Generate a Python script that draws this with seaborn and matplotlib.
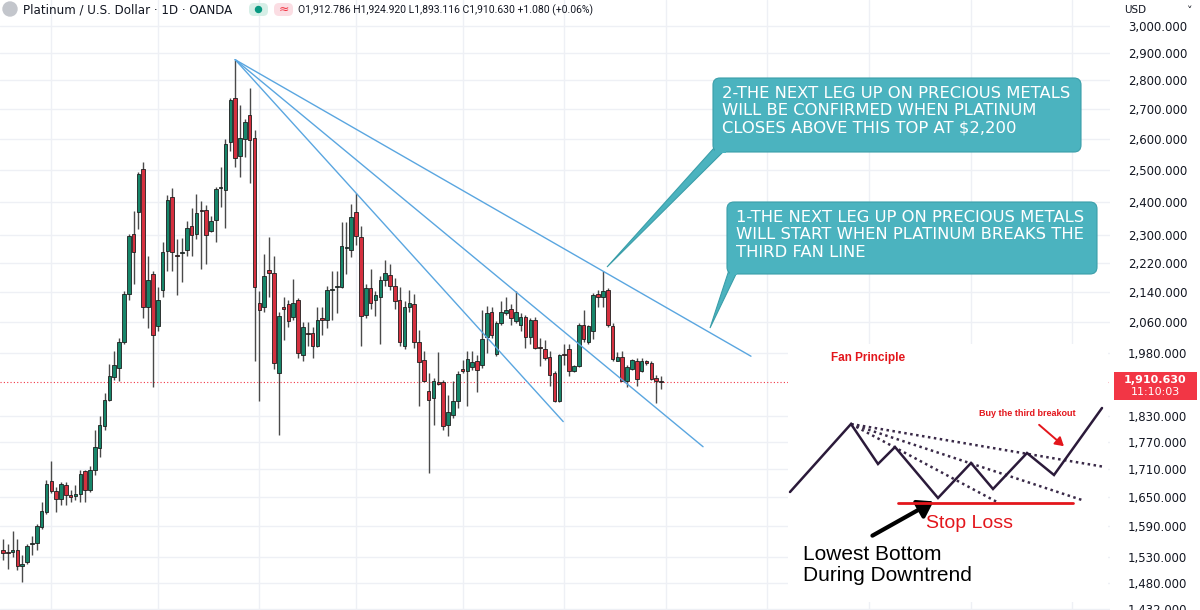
import numpy as np
import pandas as pd
import matplotlib
matplotlib.use("Agg")
import matplotlib.pyplot as plt
import seaborn as sns
from matplotlib.patches import FancyBboxPatch, Polygon, Rectangle, Circle, FancyArrowPatch

# daily candles (USD)
opens = [1543, 1539, 1539, 1543, 1512, 1519, 1555, 1557, 1588, 1619,
         1684, 1663, 1646, 1675, 1654, 1652, 1656, 1705, 1665, 1707,
         1757, 1807, 1866, 1921, 1943, 2010, 2136, 2305, 2369, 2501,
         2101, 2191, 2049, 2145, 2255, 2415, 2244, 2250, 2258, 2328,
         2305, 2375, 2375, 2313, 2346, 2442, 2436, 2589, 2739, 2543,
         2598, 2678, 2601, 2112, 2101, 2202, 2194, 1931, 2101, 2107,
         2073, 2118, 1975, 2031, 2031, 2000, 2070, 2067, 2147, 2153,
         2153, 2264, 2258, 2369, 2296, 2080, 2150, 2120, 2126, 2172,
         2188, 2158, 2118, 1998, 2101, 2109, 2010, 1963, 1888, 1871,
         1910, 1910, 1809, 1832, 1864, 1941, 1936, 1946, 1961, 1951,
         2021, 2088, 1978, 2057, 2083, 2096, 2062, 2052, 2073, 2021,
         2065, 1995, 1990, 1970, 1931, 1864, 1978, 1990, 1936, 1948,
         2054, 2008, 2036, 2134, 2128, 2145, 2049, 1961, 1970, 1912,
         1941, 1961, 1936, 1961, 1955, 1919, 1912.786]
highs = [1565, 1555, 1580, 1565, 1533, 1555, 1571, 1594, 1640, 1686,
         1728, 1671, 1682, 1682, 1665, 1675, 1707, 1707, 1717, 1797,
         1830, 1883, 1953, 1985, 2018, 2142, 2305, 2372, 2492, 2523,
         2241, 2197, 2155, 2281, 2421, 2442, 2290, 2293, 2343, 2381,
         2424, 2403, 2390, 2357, 2445, 2507, 2598, 2739, 2874, 2712,
         2667, 2774, 2628, 2142, 2247, 2296, 2241, 2088, 2128, 2118,
         2177, 2123, 2060, 2060, 2047, 2101, 2101, 2158, 2197, 2199,
         2340, 2340, 2393, 2427, 2328, 2161, 2205, 2142, 2183, 2230,
         2219, 2180, 2153, 2115, 2145, 2136, 2039, 1985, 1931, 1919,
         1983, 1914, 1878, 1912, 1936, 1963, 1985, 1985, 1975, 2091,
         2104, 2101, 2062, 2115, 2128, 2109, 2142, 2083, 2078, 2070,
         2073, 2018, 2013, 1985, 1936, 1978, 2003, 2005, 1951, 2057,
         2091, 2052, 2139, 2145, 2197, 2150, 2057, 1983, 1985, 1951,
         1965, 1968, 1968, 1963, 1961, 1926, 1924.920]
lows = [1523, 1506, 1529, 1504, 1482, 1516, 1533, 1543, 1584, 1615,
        1658, 1619, 1633, 1633, 1640, 1644, 1640, 1640, 1661, 1698,
        1737, 1797, 1864, 1914, 1912, 2005, 2118, 2161, 2319, 2070,
        2044, 1897, 2036, 2128, 2197, 2199, 2131, 2169, 2241, 2241,
        2290, 2205, 2219, 2310, 2281, 2384, 2322, 2559, 2507, 2476,
        2540, 2457, 1961, 1864, 2086, 2128, 1941, 1786, 2013, 2047,
        2065, 1968, 1961, 1998, 1968, 1995, 2026, 2044, 2065, 2083,
        2150, 2191, 2239, 2273, 1998, 2070, 2096, 2075, 2003, 2158,
        2145, 2096, 2000, 1990, 2086, 1993, 1853, 1910, 1702, 1809,
        1902, 1797, 1784, 1825, 1848, 1931, 1853, 1938, 1885, 1943,
        1980, 2018, 1973, 2052, 2078, 2054, 2057, 2036, 1993, 2005,
        1990, 1948, 1963, 1900, 1862, 1862, 1951, 1924, 1934, 1946,
        2010, 2005, 2016, 2101, 2099, 2047, 1961, 1960, 1911, 1897,
        1938, 1900, 1935, 1951, 1914, 1860, 1893.116]
closes = [1537, 1538, 1543, 1512, 1516, 1551, 1557, 1590, 1621, 1677,
          1663, 1646, 1677, 1654, 1650, 1656, 1700, 1665, 1707, 1759,
          1809, 1866, 1924, 1950, 2008, 2136, 2299, 2253, 2486, 2101,
          2172, 2026, 2118, 2253, 2406, 2253, 2241, 2253, 2322, 2302,
          2366, 2372, 2302, 2343, 2439, 2444, 2582, 2729, 2536, 2601,
          2657, 2595, 2153, 2091, 2183, 2194, 1955, 2075, 2096, 2062,
          2112, 1980, 2047, 2030, 2000, 2067, 2065, 2147, 2148, 2158,
          2270, 2265, 2355, 2299, 2075, 2150, 2112, 2131, 2172, 2194,
          2158, 2115, 2010, 2101, 2112, 2008, 1958, 1912, 1866, 1912,
          1905, 1807, 1839, 1864, 1929, 1936, 1965, 1958, 1938, 2016,
          2083, 2026, 2057, 2088, 2093, 2070, 2088, 2073, 2021, 2065,
          1993, 1994, 1968, 1926, 1864, 1975, 1977, 1936, 1948, 2054,
          2016, 2049, 2131, 2126, 2142, 2052, 1965, 1970, 1912, 1946,
          1963, 1917, 1961, 1955, 1917, 1912, 1910.630]

last_price = 1910.630
price_ticks = [3000, 2900, 2800, 2700, 2600, 2500, 2400, 2300, 2220, 2140,
               2060, 1980, 1830, 1770, 1710, 1650, 1590, 1530, 1480, 1432]
month_starts = [10, 32, 53, 73, 95, 116, 137, 158, 179, 200, 221]

# fan lines: all start at the top (bar 48 high), end points (bar index, price)
fan_start = (48, 2874)
fan_ends = [(115.8, 1816), (144.7, 1759), (154.6, 1973)]

# "Fan Principle" sketch, in its own little frame
zig_x = [10, 71, 98, 115, 158, 191, 213, 247, 274, 322]
zig_y = [152, 84, 124, 107, 158, 123, 149, 113, 135, 68]
sketch_fan_ends = [(217, 162), (302, 160), (325, 127)]

callout_top = "2-THE NEXT LEG UP ON PRECIOUS METALS\nWILL BE CONFIRMED WHEN PLATINUM\nCLOSES ABOVE THIS TOP AT $2,200"
callout_low = "1-THE NEXT LEG UP ON PRECIOUS METALS\nWILL START WHEN PLATINUM BREAKS THE\nTHIRD FAN LINE"

sns.set_style("white")
plt.rcParams["font.family"] = ["DejaVu Sans"]

UP, DOWN = "#17866a", "#d5303f"
TEAL, TEAL_EDGE = "#4bb3bf", "#3a9ea9"

fig = plt.figure(figsize=(12, 6.1), dpi=100)
ax = fig.add_axes([0, 0, 1110 / 1200, 1])

idx = np.arange(len(opens))
o, h, l, c = map(np.array, (opens, highs, lows, closes))
colors = np.where(c >= o, UP, DOWN)

ax.vlines(idx, l, h, color="#4a4a4a", lw=1, zorder=2)
ax.bar(idx, c - o, bottom=o, width=0.74, color=colors,
       edgecolor="#1e1e1e", linewidth=0.6, zorder=3)

fan = pd.DataFrame(
    [(k, x, y) for k, end in enumerate(fan_ends) for x, y in (fan_start, end)],
    columns=["line", "bar", "price"])
sns.lineplot(data=fan, x="bar", y="price", units="line", estimator=None,
             sort=False, color="#5aa6e0", lw=1, ax=ax, zorder=4)

ax.axhline(last_price, color="#f23645", lw=0.8, ls=(0, (1, 2)), zorder=1)

ax.set_yscale("log")
ax.set_ylim(1430, 3100)
ax.set_xlim(-0.6, 228.8)
ax.yaxis.tick_right()
ax.set_yticks(price_ticks)
ax.set_yticks([], minor=True)
ax.set_yticklabels([f"{v:,.3f}" for v in price_ticks], fontsize=8.5, color="#131722")
ax.set_xticks(month_starts)
ax.set_xticklabels([])
ax.tick_params(axis="both", length=0, pad=13)
ax.grid(True, color="#eef0f5", lw=1)
ax.set_xlabel("")
ax.set_ylabel("")
for s in ax.spines.values():
    s.set_visible(False)

# overlay in pixel units for header, call-outs and the axis badge
ov = fig.add_axes([0, 0, 1, 1], zorder=5)
ov.set_xlim(0, 1200)
ov.set_ylim(610, 0)
ov.axis("off")
ov.patch.set_alpha(0)

ov.add_patch(Circle((10, 9), 7, color="#c3c6cc"))
ov.text(23, 10, "Platinum / U.S. Dollar \u00b7 1D \u00b7 OANDA", fontsize=8.6,
        color="#131722", va="center")
ov.add_patch(FancyBboxPatch((249, 3), 19, 13, boxstyle="round,pad=0,rounding_size=5",
                            fc="#d6efe7", ec="none"))
ov.add_patch(Circle((258.5, 9.5), 3, color="#089981"))
ov.add_patch(FancyBboxPatch((274, 3), 19, 13, boxstyle="round,pad=0,rounding_size=5",
                            fc="#fbdde3", ec="none"))
ov.text(283.5, 9.5, "\u2248", fontsize=9, color="#f23645", ha="center", va="center")
ov.text(298, 10, "O1,912.786 H1,924.920 L1,893.116 C1,910.630 +1.080 (+0.06%)",
        fontsize=7.5, color="#131722", va="center", family="Roboto")
ov.text(1124, 10, "USD", fontsize=7.5, color="#131722", va="center")
ov.text(1190, 11, "\u02c5", fontsize=8, color="#131722", va="center", ha="center")

ov.add_patch(Rectangle((1114, 372), 83, 28, fc="#f23645", ec="none"))
ov.text(1155, 380, "1,910.630", fontsize=8, color="white", ha="center", va="center",
        fontweight="bold")
ov.text(1155, 392, "11:10:03", fontsize=8, color="white", ha="center", va="center")


def callout(x0, y0, w, hgt, tail, text):
    ov.add_patch(Polygon(tail, closed=True, fc=TEAL, ec=TEAL_EDGE, lw=0.8))
    ov.add_patch(FancyBboxPatch((x0, y0), w, hgt, boxstyle="round,pad=0,rounding_size=7",
                                fc=TEAL, ec=TEAL_EDGE, lw=0.8))
    ov.add_patch(Rectangle((tail[0][0] + 1, y0 + hgt - 3), tail[2][0] - tail[0][0] - 2, 4,
                           fc=TEAL, ec="none"))
    ov.text(x0 + 9, y0 + 8, text, fontsize=11.8, color="white", va="top",
            linespacing=1.2)


callout(713, 78, 368, 74, [(714, 148), (607, 267), (727, 148)], callout_top)
callout(727, 202, 370, 72, [(729, 270), (710, 328), (738, 270)], callout_low)

# inset sketch: the fan principle
ins = fig.add_axes([788 / 1200, 1 - 602 / 610, 320 / 1200, 258 / 610], zorder=6)
ins.set_xlim(8, 328)
ins.set_ylim(262, 4)
ins.set_facecolor("white")
ins.set_xticks([])
ins.set_yticks([])
for s in ins.spines.values():
    s.set_visible(False)

for ex, ey in sketch_fan_ends:
    ins.plot([zig_x[1], ex], [zig_y[1], ey], color="#3a2a48", lw=1.8, ls=(0, (1, 1.4)))
ins.plot(zig_x, zig_y, color="#2b1a3a", lw=1.8, solid_joinstyle="miter")
ins.plot([118, 293], [163, 163], color="#e3161c", lw=2)
ins.text(88, 18, "Fan Principle", color="#e3161c", fontsize=8.5, fontweight="bold",
         ha="center", va="center", family="Liberation Sans")
ins.text(247, 74, "Buy the third breakout", color="#e3161c", fontsize=6.5,
         fontweight="bold", ha="center", va="center", family="Liberation Sans")
ins.add_patch(FancyArrowPatch((257, 83), (286, 108), arrowstyle="-|>,head_length=5,head_width=3",
                              color="#e3161c", lw=1.4, mutation_scale=1))
ins.text(190, 183, "Stop Loss", color="#e3161c", fontsize=14, ha="center", va="center",
         family="Liberation Sans")
ins.add_patch(FancyArrowPatch((90, 197), (156, 160), arrowstyle="-|>,head_length=9,head_width=6",
                              color="black", lw=3, mutation_scale=1))
ins.text(23, 225, "Lowest Bottom\nDuring Downtrend", color="black", fontsize=15,
         ha="left", va="center", family="Liberation Sans", linespacing=1.12)

fig.savefig("out.png", dpi=100, facecolor="white")
plt.close(fig)
